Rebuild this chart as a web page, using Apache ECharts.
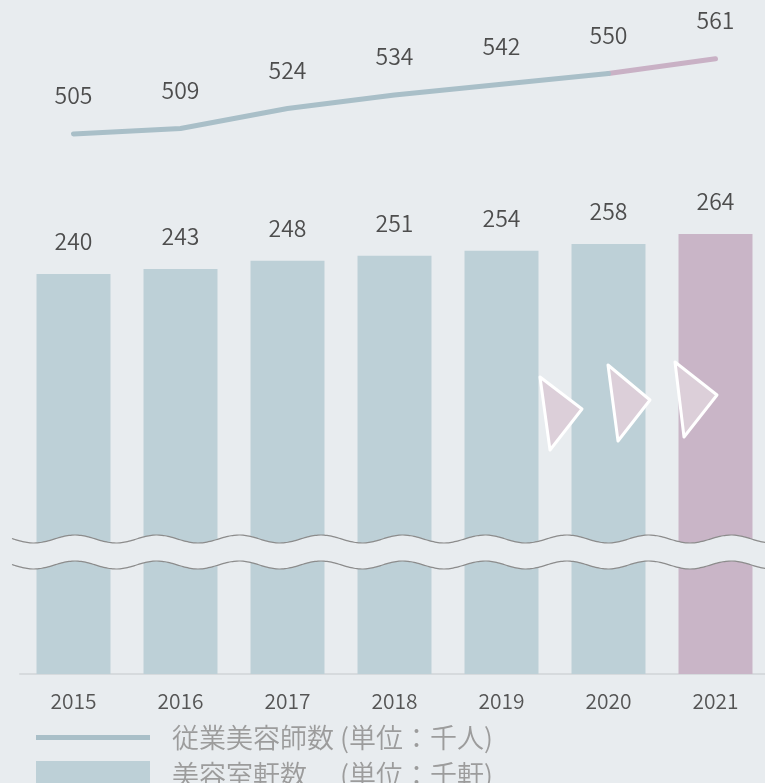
<!DOCTYPE html>
<html>
<head>
<meta charset="utf-8">
<script src="https://cdn.jsdelivr.net/npm/echarts@6/dist/echarts.min.js"></script>
<style>
html, body { margin: 0; padding: 0; background: #e8ecef; }
#chart { width: 765px; height: 783px; }
</style>
</head>
<body>
<div id="chart"></div>
<script>
const years = ['2015', '2016', '2017', '2018', '2019', '2020', '2021'];
const salonCounts = [240, 243, 248, 251, 254, 258, 264];     // 美容室軒数 (千軒)
const stylistCounts = [505, 509, 524, 534, 542, 550, 561];   // 従業美容師数 (千人)
const lineName = '従業美容師数 (単位：千人)';
const barName = '美容室軒数　 (単位：千軒)';

const FONT = 'Noto Sans CJK JP';
const WEIGHT = 350;
const BLUE_LINE = '#a9bfc8';
const BLUE_BAR = '#bdd0d7';
const PINK_LINE = '#c9b1c5';
const PINK_BAR = '#c9b5c7';
const BG = '#e8ecef';

// decorative axis break (wavy band)
const waveTop = [], waveBot = [];
for (let x = 12; x <= 768; x += 3) {
    const d = 4 * Math.cos(2 * Math.PI * (x - 75) / 82);
    waveTop.push([x, 539 - d]);
    waveBot.push([x, 565 - d]);
}

function tri(points) {
    return {
        type: 'polygon',
        z: 110,
        shape: { points: points },
        style: { fill: '#dccfd9', stroke: '#ffffff', lineWidth: 3, lineJoin: 'round' }
    };
}

const chart = echarts.init(document.getElementById('chart'));
const last = years.length - 1;

chart.setOption({
    backgroundColor: BG,
    animation: false,
    textStyle: { fontFamily: FONT },
    grid: { left: 20, width: 749, top: 24, bottom: 109, outerBoundsMode: 'none', containLabel: false },
    legend: [
        {
            data: [lineName],
            left: 36, top: 724, padding: 0,
            icon: 'rect', itemWidth: 114, itemHeight: 5,
            selectedMode: false,
            textStyle: { fontSize: 27, color: '#9c9c9c', fontFamily: FONT, fontWeight: WEIGHT, padding: [0, 0, 0, 17] }
        },
        {
            data: [barName],
            left: 36, top: 761, padding: 0,
            icon: 'rect', itemWidth: 114, itemHeight: 27,
            selectedMode: false,
            textStyle: { fontSize: 27, color: '#9c9c9c', fontFamily: FONT, fontWeight: WEIGHT, padding: [0, 0, 0, 17] }
        }
    ],
    xAxis: {
        type: 'category',
        data: years,
        axisLine: { lineStyle: { color: '#d6dadd', width: 2 } },
        axisTick: { show: false },
        axisLabel: { fontSize: 21, color: '#555555', margin: 17, fontFamily: FONT, fontWeight: WEIGHT }
    },
    yAxis: [
        { type: 'value', min: 0, max: 390, show: false },
        { type: 'value', min: 102, max: 587, show: false }
    ],
    series: [
        {
            name: barName,
            type: 'bar',
            barWidth: 74,
            color: BLUE_BAR,
            data: salonCounts.map((v, i) => ({
                value: v,
                itemStyle: { color: i === last ? PINK_BAR : BLUE_BAR }
            })),
            label: {
                show: true, position: 'top', distance: 21,
                fontSize: 23, color: '#4d4d4d', fontFamily: FONT, fontWeight: WEIGHT
            }
        },
        {
            name: lineName,
            type: 'line',
            yAxisIndex: 1,
            color: BLUE_LINE,
            symbol: 'circle', symbolSize: 0,
            lineStyle: { width: 5, color: BLUE_LINE, cap: 'round' },
            data: stylistCounts.map((v, i) => i === last ? null : v),
            label: {
                show: true, position: 'top', distance: 27,
                fontSize: 23, color: '#4d4d4d', fontFamily: FONT, fontWeight: WEIGHT
            },
            z: 5
        },
        {
            name: 'forecast',
            type: 'line',
            yAxisIndex: 1,
            color: PINK_LINE,
            symbol: 'circle', symbolSize: 0,
            lineStyle: { width: 5, color: PINK_LINE, cap: 'round' },
            data: stylistCounts.map((v, i) => i >= last - 1 ? {
                value: v,
                label: { show: i === last }
            } : null),
            label: {
                show: false, position: 'top', distance: 27,
                fontSize: 23, color: '#4d4d4d', fontFamily: FONT, fontWeight: WEIGHT
            },
            z: 4
        }
    ],
    graphic: [
        {
            type: 'polygon', z: 100, silent: true,
            shape: { points: waveTop.concat(waveBot.slice().reverse()) },
            style: { fill: BG, stroke: null }
        },
        {
            type: 'polyline', z: 101, silent: true,
            shape: { points: waveTop, smooth: 0.3 },
            style: { stroke: '#8c8c8c', lineWidth: 1.2, fill: null }
        },
        {
            type: 'polyline', z: 101, silent: true,
            shape: { points: waveBot, smooth: 0.3 },
            style: { stroke: '#8c8c8c', lineWidth: 1.2, fill: null }
        },
        tri([[540, 377], [582, 409], [550, 450]]),
        tri([[608, 365], [650, 400], [618, 441]]),
        tri([[675, 362], [717, 395], [684, 437]])
    ]
});
</script>
</body>
</html>
